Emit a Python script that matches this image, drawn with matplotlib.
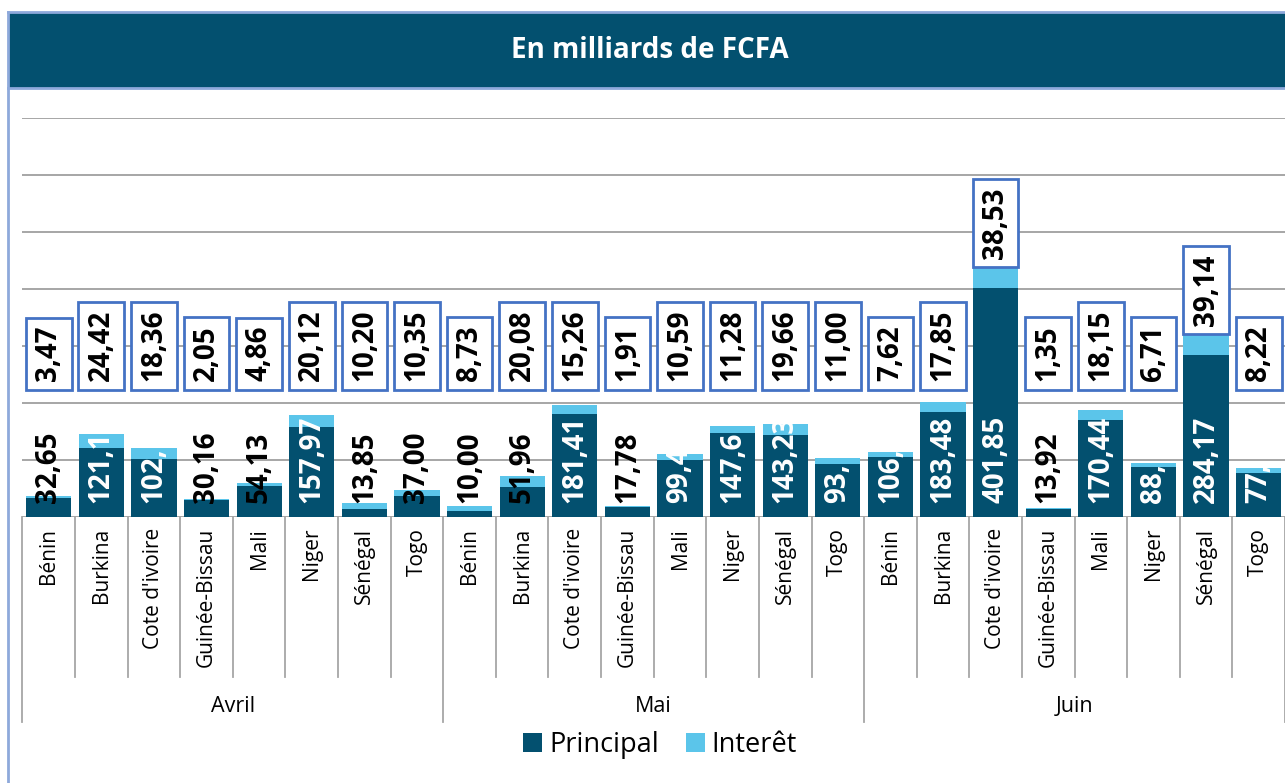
import matplotlib
matplotlib.use('Agg')
import numpy as np
from matplotlib import pyplot as plt
from matplotlib import transforms
from matplotlib.patches import Rectangle
from matplotlib.lines import Line2D

plt.rcParams['font.family'] = ['Open Sans', 'DejaVu Sans']

months = ['Avril', 'Mai', 'Juin']
countries = ['Bénin', 'Burkina', "Cote d'ivoire", 'Guinée-Bissau',
             'Mali', 'Niger', 'Sénégal', 'Togo']

principal = [32.65, 121.15, 102.3, 30.16, 54.13, 157.97, 13.85, 37.00,
             10.00, 51.96, 181.41, 17.78, 99.45, 147.68, 143.23, 93.2,
             106.05, 183.48, 401.85, 13.92, 170.44, 88.5, 284.17, 77.4]
interet = [3.47, 24.42, 18.36, 2.05, 4.86, 20.12, 10.20, 10.35,
           8.73, 20.08, 15.26, 1.91, 10.59, 11.28, 19.66, 11.00,
           7.62, 17.85, 38.53, 1.35, 18.15, 6.71, 39.14, 8.22]
# labels as they appear (some are cut off in the source chart)
principal_labels = ['32,65', '121,1', '102,', '30,16', '54,13', '157,97', '13,85', '37,00',
                    '10,00', '51,96', '181,41', '17,78', '99,4', '147,6', '143,23', '93,',
                    '106,0', '183,48', '401,85', '13,92', '170,44', '88,', '284,17', '77,']

dark = '#03506F'
light = '#5BC5EA'
W, H = 1285, 783

fig = plt.figure(figsize=(W / 100, H / 100), dpi=100)
ax = fig.add_axes([22.4 / W, 1 - 517 / H, 1262.6 / W, 399 / H])

n = len(principal)
x = np.arange(n)
p = np.array(principal)
it = np.array(interet)

b1 = ax.bar(x, p, width=0.86, color=dark, label='Principal', zorder=2)
b2 = ax.bar(x, it, width=0.86, bottom=p, color=light, label='Interêt', zorder=2)

ax.set_xlim(-0.5, n - 0.5)
ax.set_ylim(0, 700)
ax.set_yticks(np.arange(0, 701, 100))
ax.yaxis.grid(True, color='#A6A6A6', lw=1.4)
ax.set_axisbelow(True)
ax.tick_params(left=False, bottom=False, labelleft=False, labelbottom=False)
for s in ax.spines.values():
    s.set_visible(False)

# principal labels at the base of each bar
for xi, v, lab in zip(x, p, principal_labels):
    col = 'white' if v > 75 else 'black'
    ax.annotate(lab, (xi, 0), xytext=(0, 10), textcoords='offset points',
                rotation=90, ha='center', va='bottom', fontsize=20,
                fontweight='bold', color=col, zorder=4)

# interest labels in boxes
for xi, v, t in zip(x, p, it):
    y = max(238, v + t + 12)
    ax.text(xi, y, f'{t:.2f}'.replace('.', ','), rotation=90, ha='center',
            va='bottom', fontsize=20, fontweight='bold', zorder=5,
            bbox=dict(boxstyle='square,pad=0.3', fc='white', ec='#4472C4', lw=2))

# category axis below the plot
trans = transforms.blended_transform_factory(ax.transData, fig.transFigure)
y0 = 1 - 517 / H
for i in range(n + 1):
    low = 722 if i % 8 == 0 else 677
    ax.add_line(Line2D([i - 0.5, i - 0.5], [y0, 1 - low / H], transform=trans,
                       color='#A6A6A6', lw=1.3, clip_on=False))
for i, c in enumerate(countries * 3):
    ax.text(i, 1 - 528 / H, c, transform=trans, rotation=90, ha='center',
            va='top', fontsize=15)
for j, m in enumerate(months):
    ax.text(j * 8 + 3.5, 1 - 707 / H, m, transform=trans, ha='center',
            va='center', fontsize=15.5)

# header band and frame
fig.patches.append(Rectangle((8 / W, 1 - 88 / H), 1 - 8 / W, 76 / H,
                             transform=fig.transFigure, fc=dark, ec='none', zorder=0))
fig.lines.append(Line2D([8 / W, 1], [1 - 12 / H, 1 - 12 / H], transform=fig.transFigure,
                        color='#8EA9DB', lw=2))
fig.lines.append(Line2D([8 / W, 1], [1 - 88 / H, 1 - 88 / H], transform=fig.transFigure,
                        color='#8EA9DB', lw=2))
fig.lines.append(Line2D([8 / W, 8 / W], [0, 1 - 12 / H], transform=fig.transFigure,
                        color='#8EA9DB', lw=2))
fig.text(650 / W, 1 - 50 / H, 'En milliards de FCFA', color='white',
         fontsize=20, fontweight='bold', ha='center', va='center')

fig.legend(handles=[b1, b2], loc='center', bbox_to_anchor=(660 / W, 1 - 745 / H),
           ncol=2, frameon=False, fontsize=19.5, handlelength=0.7, handleheight=0.7,
           handletextpad=0.25, columnspacing=1.0)

plt.savefig('out.png', dpi=100)
plt.close()
